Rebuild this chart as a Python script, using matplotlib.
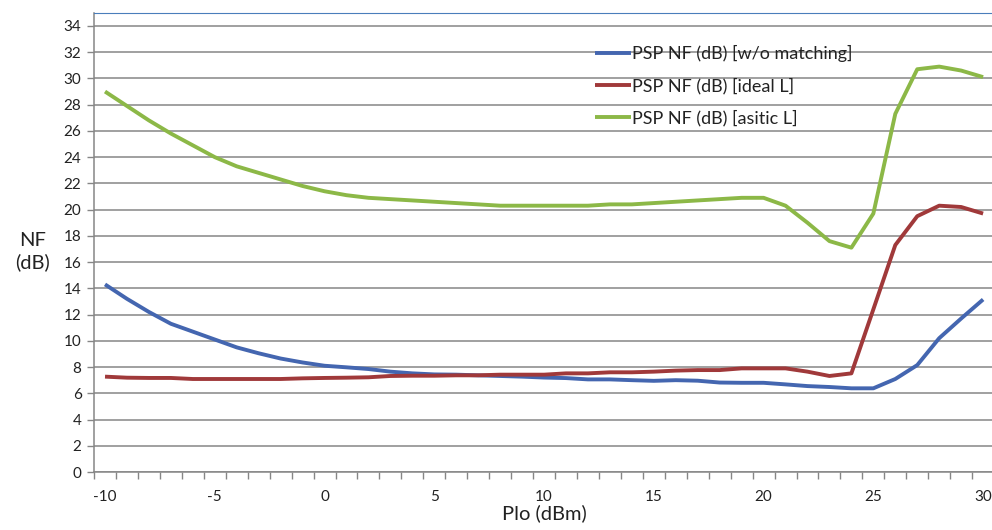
import matplotlib.pyplot as plt
import numpy as np

plt.rcParams['font.family'] = ['Lato', 'DejaVu Sans']
plt.rcParams['axes.unicode_minus'] = False

# ── data ───────────────────────────────────────────────────────────
plo = list(range(-10, 31))

nf_wo_matching = [14.3, 13.2, 12.2, 11.3, 10.7, 10.1, 9.5, 9.05, 8.65, 8.35, 8.1,
                  7.98, 7.85, 7.65, 7.52, 7.44, 7.42, 7.37, 7.32, 7.27, 7.2,
                  7.16, 7.06, 7.06, 7.0, 6.95, 7.0, 6.96, 6.82, 6.8, 6.8,
                  6.68, 6.55, 6.48, 6.38, 6.38, 7.09, 8.15, 10.2, 11.7, 13.15]

nf_ideal_l = [7.27, 7.19, 7.17, 7.17, 7.09, 7.09, 7.09, 7.09, 7.09, 7.14, 7.17,
              7.19, 7.22, 7.32, 7.34, 7.34, 7.37, 7.37, 7.42, 7.42, 7.42,
              7.52, 7.52, 7.6, 7.6, 7.65, 7.73, 7.77, 7.77, 7.9, 7.9,
              7.9, 7.65, 7.32, 7.52, 12.4, 17.3, 19.5, 20.3, 20.2, 19.7]

nf_asitic_l = [29.0, 27.9, 26.8, 25.8, 24.9, 24.0, 23.3, 22.8, 22.3, 21.8, 21.4,
               21.1, 20.9, 20.8, 20.7, 20.6, 20.5, 20.4, 20.3, 20.3, 20.3,
               20.3, 20.3, 20.4, 20.4, 20.5, 20.6, 20.7, 20.8, 20.9, 20.9,
               20.3, 19.0, 17.6, 17.1, 19.7, 27.3, 30.7, 30.9, 30.6, 30.1]

labels = ['PSP NF (dB) [w/o matching]', 'PSP NF (dB) [ideal L]', 'PSP NF (dB) [asitic L]']
colors = ['#4466b0', '#a0393a', '#8cb847']

# ── figure ─────────────────────────────────────────────────────────
fig = plt.figure(figsize=(9.92, 5.30), dpi=100)
ax = fig.add_axes([0.0948, 0.1094, 0.9073, 0.8664])

for y, lab, c in zip([nf_wo_matching, nf_ideal_l, nf_asitic_l], labels, colors):
    ax.plot(plo, y, color=c, lw=2.8, label=lab, solid_capstyle='butt')

ax.set_xlim(-10.5, 30.5)
ax.set_ylim(0, 35)

ax.set_yticks(np.arange(0, 35, 2))
ax.set_xticks(np.arange(-10, 31, 5))
ax.set_xticks(np.arange(-10.5, 31, 1), minor=True)
ax.tick_params(axis='x', which='major', length=0, pad=13, labelsize=11, colors='#222222')
ax.tick_params(axis='x', which='minor', length=5, width=1, color='#868686', direction='out')
ax.tick_params(axis='y', which='major', length=5, width=1, color='#868686',
               labelsize=11, labelcolor='#222222', pad=4)

ax.grid(axis='y', color='#868686', lw=1.1)
ax.set_axisbelow(True)

for s in ['left', 'bottom']:
    ax.spines[s].set_color('#868686')
    ax.spines[s].set_linewidth(1.1)
ax.spines['right'].set_visible(False)
ax.spines['top'].set_color('#4a7ebb')
ax.spines['top'].set_linewidth(0.8)

ax.set_xlabel('Plo (dBm)', fontsize=14.5, labelpad=0, color='#222222')
fig.text(0.033, 0.525, 'NF\n(dB)', fontsize=14.5, ha='center', va='center',
         color='#222222', linespacing=1.3)

ax.legend(loc='upper left', bbox_to_anchor=(0.538, 0.965), frameon=False,
          fontsize=13, handlelength=2.0, handletextpad=0.1, labelspacing=0.85,
          labelcolor='#222222')

fig.savefig('out.png', dpi=100)
